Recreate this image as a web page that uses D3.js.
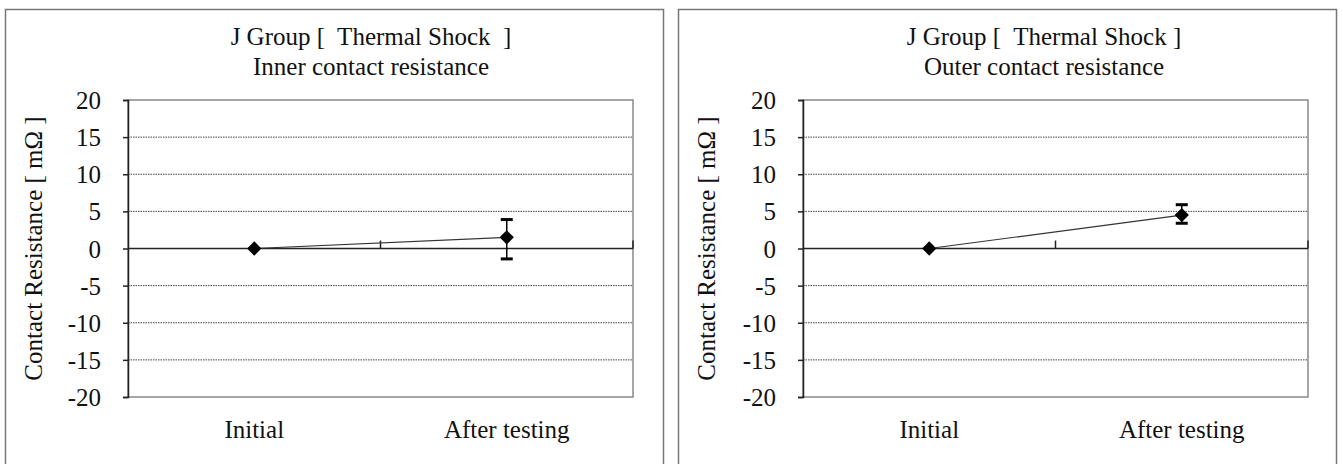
<!DOCTYPE html>
<html>
<head>
<meta charset="utf-8">
<script src="https://cdn.jsdelivr.net/npm/d3@7"></script>
<style>
  body { margin: 0; background: #fff; }
  svg text { font-family: "Liberation Serif", "Times New Roman", serif; fill: #111; }
</style>
</head>
<body>
<svg id="chart" width="1343" height="464"></svg>
<script>
// data
const categories = ["Initial", "After testing"];
const yTicks = [20, 15, 10, 5, 0, -5, -10, -15, -20];
const titles = ["J Group [  Thermal Shock  ]", "J Group [  Thermal Shock ]"];
const subtitles = ["Inner contact resistance", "Outer contact resistance"];
const innerMean = [0, 1.5];
const innerLow = [0, -1.4];
const innerHigh = [0, 3.9];
const outerMean = [0, 4.5];
const outerLow = [0, 3.4];
const outerHigh = [0, 5.9];

const series = [
  { mean: innerMean, low: innerLow, high: innerHigh },
  { mean: outerMean, low: outerLow, high: outerHigh }
];

const svg = d3.select("#chart");
const panelLeft = [5, 678];
const plotLeft = [123, 125];
const plotRight = [628, 630];
const panelW = 658;
const FS = 25;

function drawPanel(i) {
  const px = panelLeft[i];
  const g = svg.append("g").attr("transform", `translate(${px},0)`);

  // frame of the panel
  g.append("rect")
    .attr("x", 0.5).attr("y", 9.5)
    .attr("width", panelW).attr("height", 470)
    .attr("fill", "none").attr("stroke", "#777").attr("stroke-width", 1.5);

  g.append("text").attr("x", 366).attr("y", 45)
    .attr("text-anchor", "middle").attr("font-size", FS)
    .style("white-space", "pre").text(titles[i]);
  g.append("text").attr("x", 366).attr("y", 75)
    .attr("text-anchor", "middle").attr("font-size", FS)
    .text(subtitles[i]);

  const left = plotLeft[i], right = plotRight[i], top = 100, bottom = 397;
  const x = d3.scaleBand().domain(categories).range([left, right]);
  const y = d3.scaleLinear().domain([-20, 20]).range([bottom, top]);

  // plot area border
  g.append("rect")
    .attr("x", left).attr("y", top)
    .attr("width", right - left).attr("height", bottom - top)
    .attr("fill", "none").attr("stroke", "#888").attr("stroke-width", 1.5);

  // dotted grid
  g.append("g").selectAll("line")
    .data(yTicks.filter(d => d !== 0 && Math.abs(d) !== 20)).join("line")
    .attr("x1", left).attr("x2", right)
    .attr("y1", d => y(d)).attr("y2", d => y(d))
    .attr("stroke", "#444").attr("stroke-width", 1)
    .attr("stroke-dasharray", "1.5,1");

  // y axis
  const yAxis = d3.axisLeft(y).tickValues(yTicks).tickSize(5)
    .tickPadding(22).tickFormat(d => String(d));
  const ya = g.append("g").attr("transform", `translate(${left},0)`).call(yAxis);
  ya.attr("font-family", null).attr("font-size", null);
  ya.select(".domain").attr("stroke", "#222").attr("stroke-width", 1.5);
  ya.selectAll(".tick line").attr("stroke", "#222").attr("stroke-width", 1.5);
  ya.selectAll("text").attr("font-size", FS).attr("fill", "#111").attr("dy", "0.34em");

  // category axis along zero
  g.append("line")
    .attr("x1", left).attr("x2", right)
    .attr("y1", y(0)).attr("y2", y(0))
    .attr("stroke", "#222").attr("stroke-width", 1.5);
  const bounds = [x(categories[1]), right];
  g.append("g").selectAll("line").data(bounds).join("line")
    .attr("x1", d => d).attr("x2", d => d)
    .attr("y1", y(0) - 8).attr("y2", y(0))
    .attr("stroke", "#222").attr("stroke-width", 1.5);

  g.append("g").selectAll("text").data(categories).join("text")
    .attr("x", d => x(d) + x.bandwidth() / 2)
    .attr("y", 438)
    .attr("text-anchor", "middle").attr("font-size", FS)
    .text(d => d);

  // y title
  g.append("text")
    .attr("transform", `translate(37,${y(0)}) rotate(-90)`)
    .attr("text-anchor", "middle").attr("font-size", FS)
    .text("Contact Resistance [ mΩ ]");

  const s = series[i];
  const pts = categories.map((c, k) => ({
    cx: x(c) + x.bandwidth() / 2, m: s.mean[k], lo: s.low[k], hi: s.high[k]
  }));

  g.append("path")
    .datum(pts)
    .attr("d", d3.line().x(d => d.cx).y(d => y(d.m)))
    .attr("fill", "none").attr("stroke", "#333").attr("stroke-width", 1.2);

  const eb = g.append("g").selectAll("g").data(pts.filter(d => d.hi !== d.lo)).join("g");
  eb.append("line")
    .attr("x1", d => d.cx).attr("x2", d => d.cx)
    .attr("y1", d => y(d.hi)).attr("y2", d => y(d.lo))
    .attr("stroke", "#000").attr("stroke-width", 1.5);
  eb.selectAll("line.cap")
    .data(d => [{ cx: d.cx, v: d.hi }, { cx: d.cx, v: d.lo }]).join("line")
    .attr("class", "cap")
    .attr("x1", d => d.cx - 6).attr("x2", d => d.cx + 6)
    .attr("y1", d => y(d.v)).attr("y2", d => y(d.v))
    .attr("stroke", "#000").attr("stroke-width", 3);

  g.append("g").selectAll("path").data(pts).join("path")
    .attr("transform", d => `translate(${d.cx},${y(d.m)})`)
    .attr("d", d3.symbol(d3.symbolDiamond2, 130))
    .attr("fill", "#000");
}

drawPanel(0);
drawPanel(1);
</script>
</body>
</html>
